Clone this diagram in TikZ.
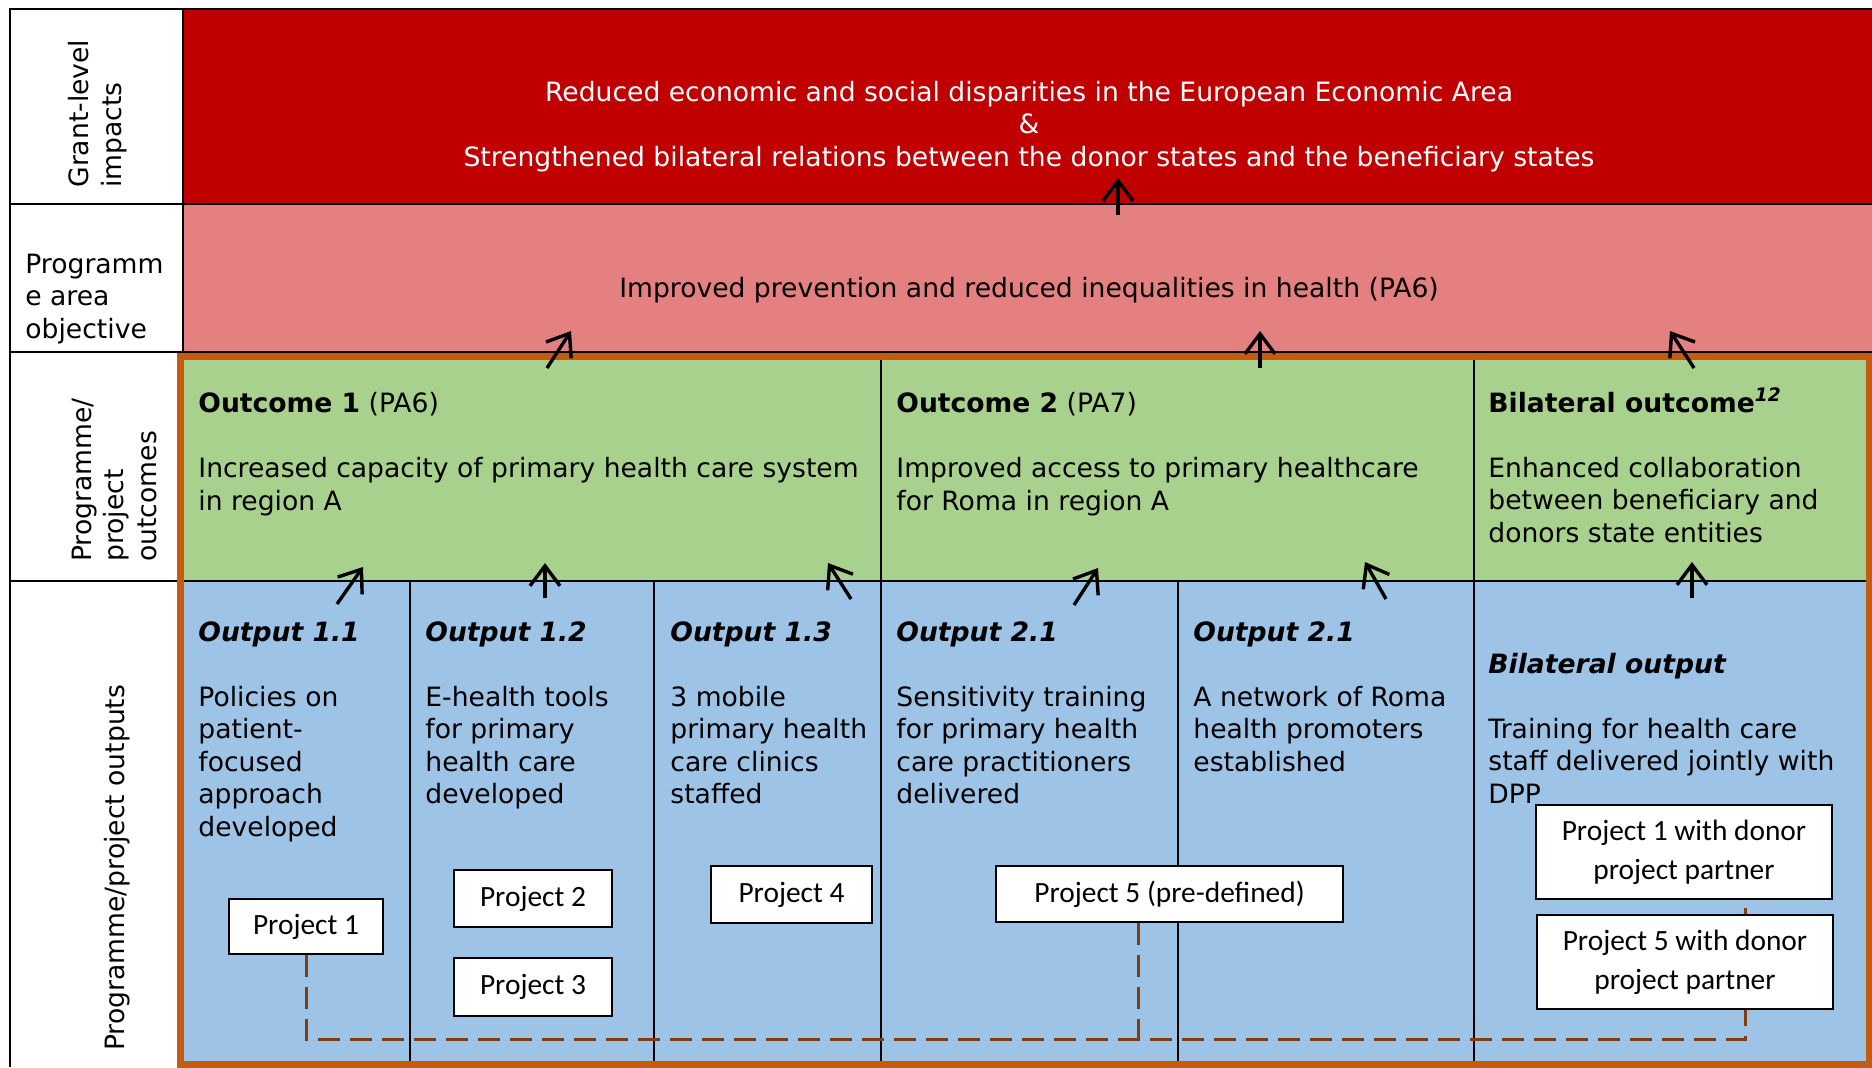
\documentclass[tikz,border=0pt]{standalone}
\usepackage{fontspec}
\setmainfont{DejaVu Sans}
\newfontfamily\calibrifont{Carlito}
\usetikzlibrary{arrows.meta}

\definecolor{impred}{HTML}{C00000}
\definecolor{objpink}{HTML}{E58080}
\definecolor{ocgreen}{HTML}{A9D18E}
\definecolor{opblue}{HTML}{9DC3E6}
\definecolor{frameorange}{HTML}{C55A11}
\definecolor{linkbrown}{HTML}{843C0C}

\begin{document}
\begin{tikzpicture}[x=0.5pt, y=-0.5pt,
    font=\fontsize{13.3}{16.25}\selectfont,
    upflow/.style={-{Straight Barb[length=10pt, width=15pt]}, line width=1.7pt},
    gridline/.style={line width=1pt},
    cellline/.style={line width=0.8pt},
    txt/.style={anchor=base west, align=left, inner sep=0pt},
    sidelabel/.style={anchor=base west, align=left, inner sep=0pt, rotate=90},
    project/.style={draw, line width=1pt, fill=white, align=center, inner sep=0pt,
        font=\calibrifont\fontsize{14.7}{19.5}\selectfont},
    link/.style={draw=linkbrown, line width=1.5pt, dash pattern=on 11pt off 5pt}]
		\useasboundingbox (0,0) rectangle (1872,1067);
		\fill[white]    (0,0) rectangle (1872,1067);
		\fill[impred]   (183,9) rectangle (1872,204);
		\fill[objpink]  (183,204) rectangle (1872,352);
		\fill[ocgreen]  (183,352) rectangle (1872,581);
		\fill[opblue]   (183,581) rectangle (1872,1067);
		
		\draw[gridline] (10,1067) -- (10,9) -- (1872,9);
		\draw[gridline] (10,204) -- (1872,204);
		\draw[gridline] (10,352) -- (1872,352);
		\draw[gridline] (10,581) -- (1868,581);
		\draw[gridline] (183,9) -- (183,352);
		\foreach \x in {881,1474} \draw[cellline] (\x,356) -- (\x,1063);
		\foreach \x in {410,654,1178} \draw[cellline] (\x,581) -- (\x,1063);
		\draw[frameorange, line width=3.5pt] (180.5,356.5) rectangle (1869.5,1064.5);
		
		\node (grantlbl) [sidelabel] at (121,188) {Grant-level\\impacts};
		\node (arealbl) [txt] at (25,338) {Programm\\e area\\objective};
		\node (outclbl) [sidelabel] at (156,562) {Programme/\\project\\outcomes};
		\node (outplbl) [sidelabel] at (124,1051) {Programme/project outputs};
		
		\node (impact) [txt, anchor=base, align=center, text=white] at (1029,166)
			{Reduced economic and social disparities in the European Economic Area\\\&\\Strengthened bilateral relations between the donor states and the beneficiary states};
		\node (objective) [txt, anchor=base] at (1029,297)
			{Improved prevention and reduced inequalities in health (PA6)};
		
		\node (outcome1) [txt] at (198,510) {\textbf{Outcome 1} (PA6)\\[16.25pt]Increased capacity of primary health care system\\in region A};
		\node (outcome2) [txt] at (896,510) {\textbf{Outcome 2} (PA7)\\[16.25pt]Improved access to primary healthcare\\for Roma in region A};
		\node (bioutcome) [txt] at (1488,542) {\textbf{Bilateral outcome\textsuperscript{\itshape 12}}\\[16.25pt]Enhanced collaboration\\between beneficiary and\\donors state entities};
		
		\node (output11) [txt] at (198,836) {\textbf{\textit{Output 1.1}}\\[16.25pt]Policies on\\patient-\\focused\\approach\\developed};
		\node (output12) [txt] at (425,803.5) {\textbf{\textit{Output 1.2}}\\[16.25pt]E-health tools\\for primary\\health care\\developed};
		\node (output13) [txt] at (670,803.5) {\textbf{\textit{Output 1.3}}\\[16.25pt]3 mobile\\primary health\\care clinics\\staffed};
		\node (output21) [txt] at (896,803.5) {\textbf{\textit{Output 2.1}}\\[16.25pt]Sensitivity training\\for primary health\\care practitioners\\delivered};
		\node (output22) [txt] at (1193,771) {\textbf{\textit{Output 2.1}}\\[16.25pt]A network of Roma\\health promoters\\established};
		\node (bioutput) [txt] at (1488,803) {\textbf{\textit{Bilateral output}}\\[16.25pt]Training for health care\\staff delivered jointly with\\DPP};
		
		\node (proj1) [project, minimum width=77pt, minimum height=27.5pt] at (306,926.5) {Project 1};
		\node (proj2) [project, minimum width=79pt, minimum height=28.5pt] at (533,898.5) {Project 2};
		\node (proj3) [project, minimum width=79pt, minimum height=29pt] at (533,987) {Project 3};
		\node (proj4) [project, minimum width=80.5pt, minimum height=28.5pt] at (791.5,894.5) {Project 4};
		\node (proj5) [project, minimum width=173.5pt, minimum height=28pt] at (1169.5,894) {Project 5 (pre-defined)};
		\node (proj1d) [project, minimum width=148pt, minimum height=47pt] at (1684,852) {Project 1 with donor\\project partner};
		
		\coordinate (bus) at (1745,1039);
		\draw[link] (proj1.south) |- (bus) -- (proj1d.south -| bus);
		\draw[link] ([xshift=-15.75pt]proj5.south) -- ([xshift=-15.75pt]proj5.south |- bus);
		
		\node (proj5d) [project, minimum width=148pt, minimum height=47pt] at (1685,962) {Project 5 with donor\\project partner};
		
		\coordinate (objtail) at (1118,215);  \coordinate (impin) at (1118,178);
		\coordinate (oc1tail) at (547,368);   \coordinate (objin1) at (571,331);
		\coordinate (oc2tail) at (1260,368);  \coordinate (objin2) at (1260,331);
		\coordinate (ocbtail) at (1694,368);  \coordinate (objin3) at (1670,331);
		\coordinate (op11tail) at (337,604);  \coordinate (oc1in1) at (363,567);
		\coordinate (op12tail) at (545,598);  \coordinate (oc1in2) at (545,563);
		\coordinate (op13tail) at (851,599);  \coordinate (oc1in3) at (828,563);
		\coordinate (op21tail) at (1074,605); \coordinate (oc2in1) at (1098,568);
		\coordinate (op22tail) at (1386,599); \coordinate (oc2in2) at (1365,562);
		\coordinate (opbtail) at (1692,598);  \coordinate (ocbin) at (1692,562);
		
		\draw[upflow]   (objtail) -- (impin);
		\draw[upflow]   (oc1tail) -- (objin1);
		\draw[upflow]   (oc2tail) -- (objin2);
		\draw[upflow]   (ocbtail) -- (objin3);
		\draw[upflow]   (op11tail) -- (oc1in1);
		\draw[upflow]   (op12tail) -- (oc1in2);
		\draw[upflow]   (op13tail) -- (oc1in3);
		\draw[upflow]   (op21tail) -- (oc2in1);
		\draw[upflow]   (op22tail) -- (oc2in2);
		\draw[upflow]   (opbtail) -- (ocbin);
\end{tikzpicture}
\end{document}
